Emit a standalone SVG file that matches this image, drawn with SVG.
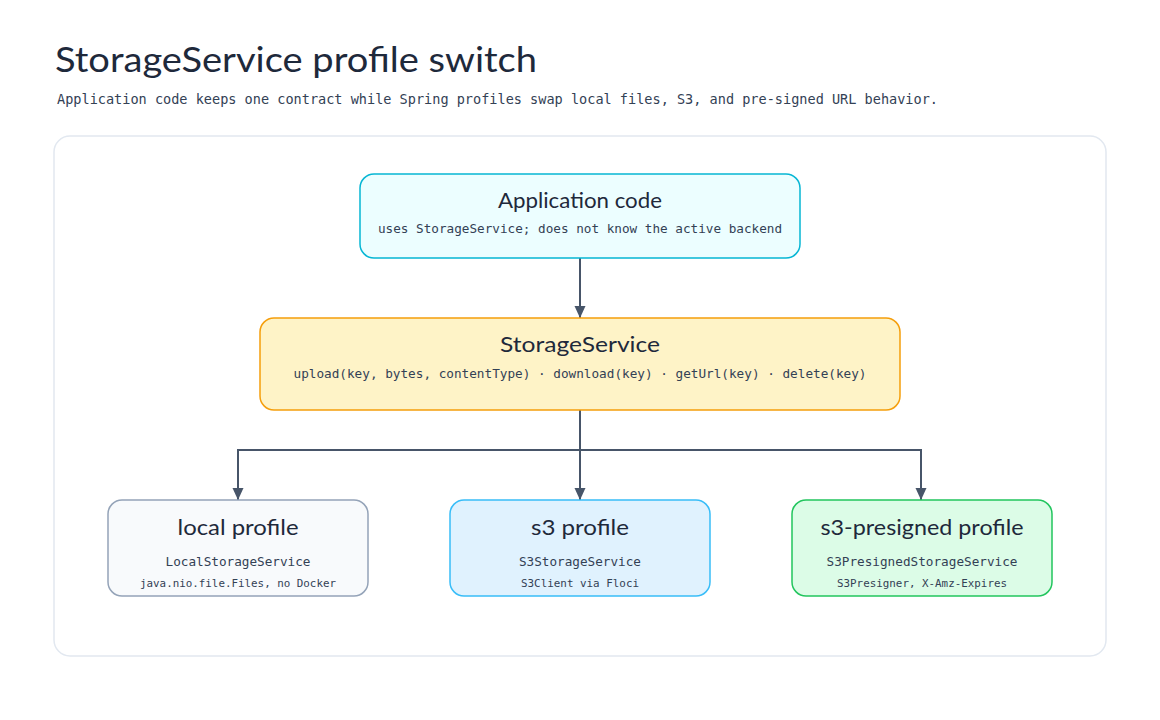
<svg xmlns="http://www.w3.org/2000/svg" width="1160" height="720" viewBox="0 0 1160 720">
  <style>
    .hand { font-family: "Lato", "Open Sans", "Liberation Sans", sans-serif; fill: #1e293b; }
    .mono { font-family: "DejaVu Sans Mono", "Liberation Mono", monospace; fill: #334155; }
    .ntitle { font-size: 22px; text-anchor: middle; }
    .nsub { font-size: 12.7px; text-anchor: middle; }
    .nsmall { font-size: 10.9px; text-anchor: middle; }
    .edge { fill: none; stroke: #475569; stroke-width: 2; }
  </style>
  <defs>
    <marker id="arrow" viewBox="0 0 12 12" refX="12" refY="6" markerWidth="12" markerHeight="12" markerUnits="userSpaceOnUse" orient="auto">
      <path d="M0,0.5 L12,6 L0,11.5 Z" fill="#475569"/>
    </marker>
  </defs>
  <rect width="1160" height="720" fill="#ffffff"/>
  <text class="hand" x="55" y="72" font-size="34" textLength="482" lengthAdjust="spacingAndGlyphs">StorageService profile switch</text>
  <text class="mono" x="57" y="104" font-size="13.8" textLength="881" lengthAdjust="spacingAndGlyphs">Application code keeps one contract while Spring profiles swap local files, S3, and pre-signed URL behavior.</text>
  <rect id="panel" x="54" y="136" width="1052" height="520" rx="16" fill="#ffffff" stroke="#e2e8f0" stroke-width="1.5"/>

  <g id="connectors">
    <path class="edge" d="M580,258 V318" marker-end="url(#arrow)"/>
    <path class="edge" d="M580,410 V500" marker-end="url(#arrow)"/>
    <path class="edge" d="M580,450 H238 V500" marker-end="url(#arrow)"/>
    <path class="edge" d="M580,450 H921 V500" marker-end="url(#arrow)"/>
  </g>

  <g id="app-code">
    <rect x="360" y="174" width="440" height="84" rx="14" fill="#ecfeff" stroke="#06b6d4" stroke-width="1.5"/>
    <text class="hand ntitle" x="580" y="208" textLength="164" lengthAdjust="spacingAndGlyphs">Application code</text>
    <text class="mono nsub" x="580" y="233" textLength="404" lengthAdjust="spacingAndGlyphs">uses StorageService; does not know the active backend</text>
  </g>

  <g id="storage-service">
    <rect x="260" y="318" width="640" height="92" rx="14" fill="#fef3c7" stroke="#f59e0b" stroke-width="1.5"/>
    <text class="hand ntitle" x="580" y="352" textLength="160" lengthAdjust="spacingAndGlyphs">StorageService</text>
    <text class="mono nsub" x="580" y="378" textLength="573" lengthAdjust="spacingAndGlyphs">upload(key, bytes, contentType) · download(key) · getUrl(key) · delete(key)</text>
  </g>

  <g id="local-profile">
    <rect x="108" y="500" width="260" height="96" rx="14" fill="#f8fafc" stroke="#94a3b8" stroke-width="1.5"/>
    <text class="hand ntitle" x="238" y="535" textLength="121" lengthAdjust="spacingAndGlyphs">local profile</text>
    <text class="mono nsub" x="238" y="566" textLength="145" lengthAdjust="spacingAndGlyphs">LocalStorageService</text>
    <text class="mono nsmall" x="238" y="587" textLength="196" lengthAdjust="spacingAndGlyphs">java.nio.file.Files, no Docker</text>
  </g>

  <g id="s3-profile">
    <rect x="450" y="500" width="260" height="96" rx="14" fill="#e0f2fe" stroke="#38bdf8" stroke-width="1.5"/>
    <text class="hand ntitle" x="580" y="535" textLength="98" lengthAdjust="spacingAndGlyphs">s3 profile</text>
    <text class="mono nsub" x="580" y="566" textLength="122" lengthAdjust="spacingAndGlyphs">S3StorageService</text>
    <text class="mono nsmall" x="580" y="587" textLength="118" lengthAdjust="spacingAndGlyphs">S3Client via Floci</text>
  </g>

  <g id="s3-presigned-profile">
    <rect x="792" y="500" width="260" height="96" rx="14" fill="#dcfce7" stroke="#22c55e" stroke-width="1.5"/>
    <text class="hand ntitle" x="922" y="535" textLength="203" lengthAdjust="spacingAndGlyphs">s3-presigned profile</text>
    <text class="mono nsub" x="922" y="566" textLength="191" lengthAdjust="spacingAndGlyphs">S3PresignedStorageService</text>
    <text class="mono nsmall" x="922" y="587" textLength="170" lengthAdjust="spacingAndGlyphs">S3Presigner, X-Amz-Expires</text>
  </g>
</svg>
